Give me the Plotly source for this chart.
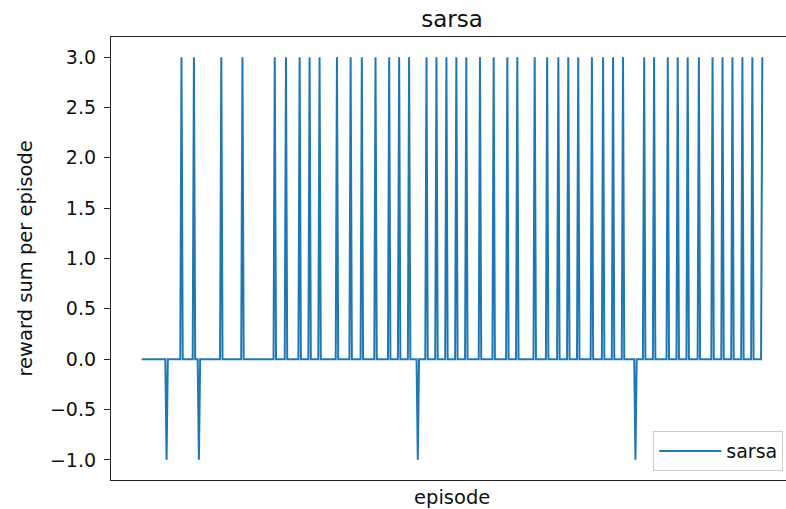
import plotly.graph_objects as go

# ---- data ----
N_EPISODES = 500
# episodes whose reward sum was 3.0
success_episodes = [32, 42, 64, 81, 107, 116, 127, 135, 143, 157, 168, 177, 188,
                    199, 207, 215, 229, 237, 245, 253, 261, 272, 283, 294, 302,
                    316, 326, 335, 343, 351, 362, 371, 379, 387, 404, 412, 423,
                    431, 439, 448, 459, 467, 475, 483, 491, 499]
success_value = 3.0
# episodes whose reward sum was -1.0
failure_episodes = [20, 46, 222, 397]
failure_value = -1.0

episodes = list(range(N_EPISODES))
rewards = [0.0] * N_EPISODES
for e in success_episodes:
    rewards[e] = success_value
for e in failure_episodes:
    rewards[e] = failure_value

y_ticks = [-1.0, -0.5, 0.0, 0.5, 1.0, 1.5, 2.0, 2.5, 3.0]
y_tick_text = [f"{v:.1f}".replace("-", "\u2212") for v in y_ticks]

FONT = "DejaVu Sans"
W, H = 786, 509
ML, MT, MB, MR = 111, 37, 29, 0
plot_w = W - ML - MR

# x mapping: episode 0 at px 141.7, episode 499 at px 762.3
px_per_ep = (762.3 - 141.7) / (N_EPISODES - 1)
x_lo = 0 - (141.7 - ML) / px_per_ep
x_hi = (N_EPISODES - 1) + (W - MR - 762.3) / px_per_ep

fig = go.Figure()
fig.add_trace(go.Scatter(
    x=episodes, y=rewards, mode="lines", name="sarsa",
    line=dict(color="#1f77b4", width=2),
))

fig.update_layout(
    width=W, height=H,
    margin=dict(l=ML, r=MR, t=MT, b=MB, pad=0),
    paper_bgcolor="white", plot_bgcolor="white",
    font=dict(family=FONT, color="#111111", size=19),
    title=dict(text="sarsa", x=(452 - ML) / plot_w, xref="paper", xanchor="center",
               y=1 - 19 / H, yref="container", yanchor="middle",
               font=dict(family=FONT, size=23, color="#111111")),
    showlegend=True,
    legend=dict(x=0.996, y=0.02, xanchor="right", yanchor="bottom",
                bgcolor="rgba(255,255,255,0.8)", bordercolor="#cccccc", borderwidth=1,
                itemwidth=62,
                font=dict(family=FONT, size=19, color="#111111")),
    xaxis=dict(range=[x_lo, x_hi], showgrid=False, zeroline=False,
               showticklabels=False, ticks="", showline=True, linecolor="#222222",
               linewidth=1.3, mirror=True),
    yaxis=dict(range=[-1.2, 3.2], showgrid=False, zeroline=False,
               tickvals=y_ticks, ticktext=y_tick_text, ticks="outside", ticklen=6,
               tickwidth=1.3, tickcolor="#222222", showline=True, linecolor="#222222",
               linewidth=1.3, ticklabelstandoff=4,
               tickfont=dict(family=FONT, size=19, color="#111111")),
    annotations=[
        dict(text="episode", xref="paper", yref="paper", x=(452 - ML) / plot_w, y=0,
             xanchor="center", yanchor="middle", yshift=-(497 - 480), showarrow=False,
             font=dict(family=FONT, size=19.5, color="#111111")),
        dict(text="reward sum per episode", xref="paper", yref="paper", x=0, y=0.5,
             xanchor="center", yanchor="middle", xshift=25 - ML, textangle=-90,
             showarrow=False, font=dict(family=FONT, size=19.5, color="#111111")),
    ],
)

fig.write_html("out.html")
